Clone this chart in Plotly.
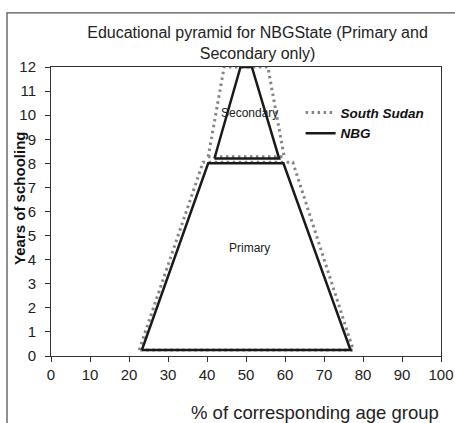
import plotly.graph_objects as go

# Data
ss_primary_x = [22.6, 39.0, 62.0, 77.5, 22.6]
ss_primary_y = [0.25, 8.05, 8.05, 0.25, 0.25]
ss_secondary_x = [40.3, 44.4, 55.6, 59.8, 40.3]
ss_secondary_y = [8.27, 12.0, 12.0, 8.27, 8.27]

nbg_primary_x = [23.3, 40.3, 59.6, 76.8, 23.3]
nbg_primary_y = [0.25, 8.0, 8.0, 0.25, 0.25]
nbg_secondary_x = [41.9, 48.6, 51.5, 58.5, 41.9]
nbg_secondary_y = [8.2, 12.0, 12.0, 8.2, 8.2]

x_ticks = list(range(0, 101, 10))
y_ticks = list(range(0, 13))

FONT = "Liberation Sans, Arial, sans-serif"

fig = go.Figure()
fig.add_trace(go.Scatter(
    x=ss_primary_x + [None] + ss_secondary_x,
    y=ss_primary_y + [None] + ss_secondary_y,
    mode="lines", name="South Sudan",
    line=dict(color="#858585", width=3, dash="2.5px,3.5px"),
))
fig.add_trace(go.Scatter(
    x=nbg_primary_x + [None] + nbg_secondary_x,
    y=nbg_primary_y + [None] + nbg_secondary_y,
    mode="lines", name="NBG",
    line=dict(color="#1a1a1a", width=2.5),
))

fig.add_annotation(x=50.8, y=10.07, text="Secondary", showarrow=False,
                   font=dict(family=FONT, size=12, color="#222"))
fig.add_annotation(x=51, y=4.5, text="Primary", showarrow=False,
                   font=dict(family=FONT, size=12, color="#222"))

# Axis titles as annotations
fig.add_annotation(xref="paper", yref="paper", x=1.0, y=-0.197, xanchor="right",
                   yanchor="middle", text="% of corresponding age group", showarrow=False,
                   font=dict(family=FONT, size=18.5, color="#222"))
fig.add_annotation(xref="paper", yref="paper", x=-0.0795, y=0.547, textangle=-90,
                   xanchor="center", yanchor="middle",
                   text="<b>Years of schooling</b>", showarrow=False,
                   font=dict(family=FONT, size=15, color="#111"))

# Outer frame
fig.add_shape(type="rect", xref="paper", yref="paper",
              x0=-0.1128, y0=-0.3, x1=1.2, y1=1.187,
              line=dict(color="#555", width=1.3), fillcolor="rgba(0,0,0,0)")

fig.update_layout(
    width=455, height=423,
    margin=dict(l=51, r=14, t=67, b=67),
    paper_bgcolor="white", plot_bgcolor="white",
    font=dict(family=FONT, size=14, color="#222"),
    title=dict(text="Educational pyramid for NBGState (Primary and<br>Secondary only)",
               x=0.566, xanchor="center", y=0.91, yanchor="middle",
               font=dict(family=FONT, size=16, color="#222")),
    showlegend=True,
    legend=dict(x=0.64, y=0.895, xanchor="left", yanchor="top",
                bgcolor="rgba(0,0,0,0)", tracegroupgap=0,
                font=dict(family=FONT, size=13.5, color="#111", weight="bold", style="italic")),
)
fig.update_xaxes(range=[0, 100], tickvals=x_ticks, showgrid=False, zeroline=False,
                 showline=True, linecolor="#333", linewidth=1, mirror=True,
                 ticks="outside", ticklen=5, tickcolor="#333", automargin=False,
                 tickfont=dict(size=15, color="#222"))
fig.update_yaxes(range=[0, 12], tickvals=y_ticks, showgrid=False, zeroline=False,
                 showline=True, linecolor="#333", linewidth=1, mirror=True,
                 ticks="outside", ticklen=5, tickcolor="#333", automargin=False,
                 ticklabelstandoff=6,
                 tickfont=dict(size=15, color="#222"))

fig.write_html("out.html", config={"displayModeBar": False},
               post_script="document.body.style.margin='0';document.body.style.padding='0';")
